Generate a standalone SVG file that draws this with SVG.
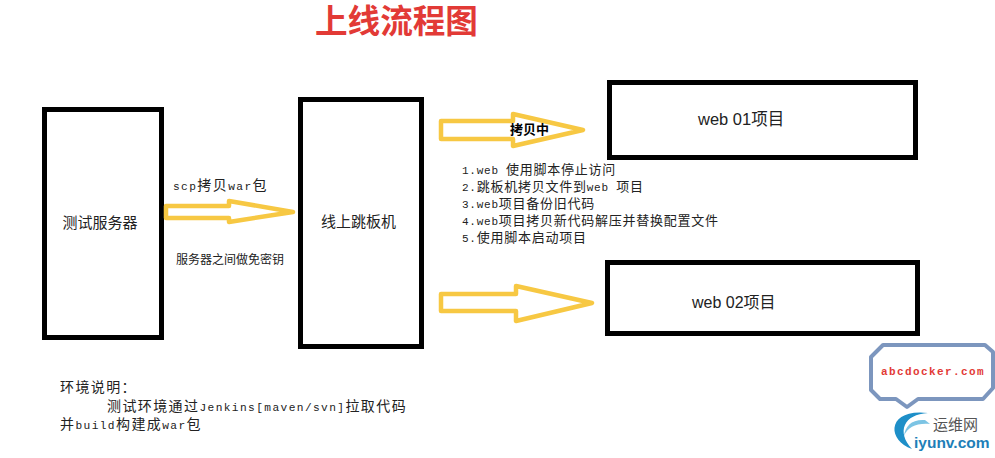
<svg xmlns="http://www.w3.org/2000/svg" width="995" height="458" viewBox="0 0 995 458">
<defs><style>
text{font-family:"Noto Sans CJK SC","Liberation Sans",sans-serif;fill:#222}
.box{fill:#fff;stroke:#000;stroke-width:5}
.arrow{fill:none;stroke:#F7C843;stroke-width:4.5;stroke-linejoin:round}
.label{font-size:15px;text-anchor:middle}
.web{font-family:"Liberation Sans","Noto Sans CJK SC",sans-serif}
.note{font-size:13px;letter-spacing:.75px}
.m{font-family:"Liberation Mono",monospace;font-size:11px}
.big{font-size:14px;letter-spacing:1.4px}
.bm{font-family:"Liberation Mono",monospace;font-size:11.2px}
</style></defs>
<rect width="995" height="458" fill="#fff"/>
<text x="315" y="33" font-size="32.6" font-weight="700" style="fill:#E23A36">上线流程图</text>
<g id="node-test"><rect class="box" x="44.5" y="109.5" width="117" height="228"/><text class="label" x="100" y="228">测试服务器</text></g>
<g id="node-jump"><rect class="box" x="300.5" y="99.5" width="121" height="247"/><text class="label" x="358.5" y="227">线上跳板机</text></g>
<g id="node-web01"><rect class="box" x="609.5" y="82.5" width="306" height="75"/><text class="web" font-size="16.5" x="698" y="125">web 01项目</text></g>
<g id="node-web02"><rect class="box" x="607.5" y="262.5" width="310" height="71"/><text class="web" font-size="16" x="692" y="308">web 02项目</text></g>
<g id="connectors">
<path class="arrow" d="M166 206H229V201L293 212L229 222V218H166Z"/>
<path class="arrow" d="M441 121H513V114L583 130L513 146V139H441Z"/>
<path class="arrow" d="M441 294H516V286L592 303L516 321V311H441Z"/>
</g>
<text x="173" y="190" class="big"><tspan class="bm">scp</tspan>拷贝<tspan class="bm">war</tspan>包</text>
<text x="176" y="264" font-size="12">服务器之间做免密钥</text>
<text x="510" y="134" font-size="13" font-weight="700" style="fill:#000">拷贝中</text>
<text class="note" x="462" y="174"><tspan class="m">1.web </tspan>使用脚本停止访问</text>
<text class="note" x="462" y="191"><tspan class="m">2.</tspan>跳板机拷贝文件到<tspan class="m">web </tspan>项目</text>
<text class="note" x="462" y="208"><tspan class="m">3.web</tspan>项目备份旧代码</text>
<text class="note" x="462" y="225"><tspan class="m">4.web</tspan>项目拷贝新代码解压并替换配置文件</text>
<text class="note" x="462" y="242"><tspan class="m">5.</tspan>使用脚本启动项目</text>
<text class="big" x="60" y="392">环境说明：</text>
<text class="big" x="107" y="411">测试环境通过<tspan class="bm">Jenkins[maven/svn]</tspan>拉取代码</text>
<text class="big" x="60" y="429">并<tspan class="bm">build</tspan>构建成<tspan class="bm">war</tspan>包</text>
<g id="logo">
<path d="M883 345H985L993 352V388L983 399H918L907 407L896 399H880L871 390V357Z" fill="#fff" stroke="#7C96BE" stroke-width="4" stroke-linejoin="round"/>
<text x="881" y="375" font-size="11" font-weight="700" style="font-family:'Liberation Mono',monospace;fill:#E23A36;letter-spacing:1.4px">abcdocker.com</text>
<path d="M912 449C886 440 887 408 928 413C904 414 896 432 912 449Z" fill="#1E8FC8"/>
<path d="M925 420C912 419 905 426 904 436C908 427 916 423 930 424Z" fill="#7CC4E4"/>
<text x="933" y="430" font-size="15" style="fill:#555">运维网</text>
<text x="914" y="448" font-size="15.5" font-weight="700" style="font-family:'Liberation Sans',sans-serif;fill:#1E7FB8">iyunv.com</text>
</g>
</svg>
